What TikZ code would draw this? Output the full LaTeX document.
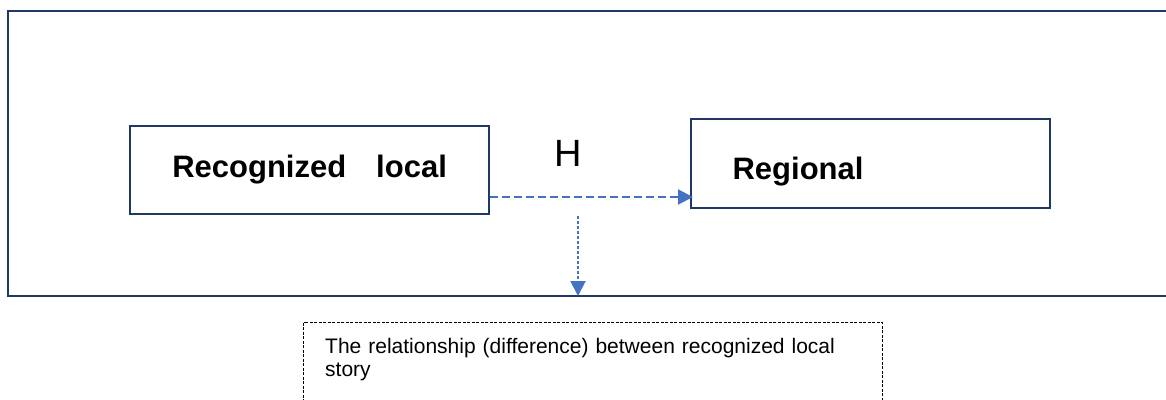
\documentclass[tikz,border=0pt]{standalone}
\usepackage{fontspec}
\setmainfont{Liberation Sans}
\usepackage{tikz}
\usetikzlibrary{arrows.meta,positioning}

\definecolor{frameblue}{RGB}{32,56,100}
\definecolor{linkblue}{RGB}{68,114,196}

\begin{document}
\begin{tikzpicture}[x=1pt, y=-1pt,
  box/.style={draw=frameblue, line width=2.2pt, inner sep=0pt,
    font=\fontsize{31}{36}\selectfont\bfseries},
  link/.style={draw=linkblue, line width=2pt,
    -{Triangle[length=15pt, width=15pt]}}]

  \useasboundingbox (0,0) rectangle (1166,399);
  \clip (0,0) rectangle (1166,399);

  \newcommand\YLINK{197};
  \newcommand\XDROP{578};
  \newcommand\YFLOOR{296};

  % outer frame, open to the right
  \draw[frameblue, line width=1.8pt] (8.3,10.7) rectangle (1200,\YFLOOR);

  \node[box, anchor=north west, minimum width=359pt,
    text height=51.7pt, text depth=36.3pt, align=center]
    (local) at (129,125) {Recognized\hspace{30pt}local};
  \node[box, anchor=north west, inner xsep=41.5pt, text width=276pt,
    text height=60.3pt, text depth=28.7pt, align=left]
    (regional) at (690,118) {Regional};

  \node[font=\fontsize{38}{42}\selectfont] (h) at (568.7,153) {H};

  \coordinate (linkstart) at (490,\YLINK);
  \coordinate (linkend) at (693,\YLINK);
  \draw[link, dash pattern=on 8pt off 4pt] (linkstart) -- (linkend);

  \coordinate (drop) at (\XDROP,216);
  \coordinate (floor) at (\XDROP,\YFLOOR);
  \draw[link, dash pattern=on 3pt off 2pt] (drop) -- (floor);

  % note below the frame
  \draw[line width=0.9pt, dash pattern=on 3pt off 1.5pt] (303.5,322.7) rectangle (882.5,430);
  \node[anchor=base west, inner sep=0pt, text width=540pt, align=left,
    font=\fontsize{21}{23}\selectfont]
    (story) at (325,353.5) {The relationship (difference) between recognized local\\story};

\end{tikzpicture}
\end{document}
